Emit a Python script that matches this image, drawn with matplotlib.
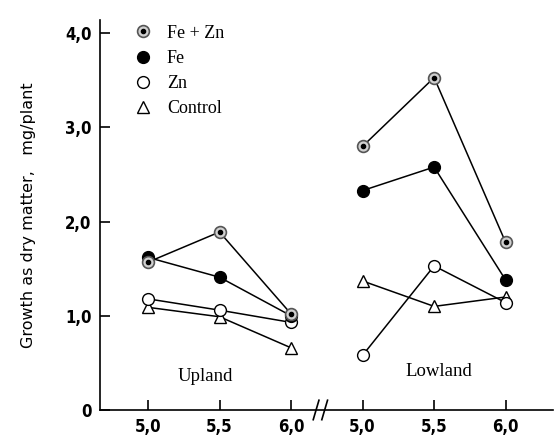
import matplotlib
matplotlib.use("Agg")
import matplotlib.pyplot as plt
from matplotlib import font_manager
from matplotlib.legend_handler import HandlerTuple

# pH values on each soil, drawn at positions 0..5 with a break between
ph_labels = ["5,0", "5,5", "6,0", "5,0", "5,5", "6,0"]
upland_x = [0, 1, 2]
lowland_x = [3, 4, 5]

# dry matter, mg/plant
upland = {
    "Fe + Zn": [1.57, 1.89, 1.02],
    "Fe": [1.62, 1.41, 1.00],
    "Zn": [1.18, 1.06, 0.93],
    "Control": [1.09, 0.99, 0.66],
}
lowland = {
    "Fe + Zn": [2.80, 3.53, 1.78],
    "Fe": [2.33, 2.58, 1.38],
    "Zn": [0.58, 1.53, 1.14],
    "Control": [1.37, 1.10, 1.20],
}
yticks = [0, 1, 2, 3, 4]
ytick_labels = ["0", "1,0", "2,0", "3,0", "4,0"]

names = {f.name for f in font_manager.fontManager.ttflist}
narrow = "Liberation Sans Narrow" if "Liberation Sans Narrow" in names else "DejaVu Sans"
serif = "Liberation Serif"

fig = plt.figure(figsize=(5.59, 4.38), dpi=100)
ax = fig.add_axes([0.179, 0.064, 0.81, 0.89])

styles = {
    "Fe + Zn": dict(marker="o", markersize=8.5, markerfacecolor="#d0d0d0",
                    markeredgecolor="#555555", markeredgewidth=1.2),
    "Fe": dict(marker="o", markersize=8.5, markerfacecolor="black",
               markeredgecolor="black"),
    "Zn": dict(marker="o", markersize=8.5, markerfacecolor="white",
               markeredgecolor="black", markeredgewidth=1.0),
    "Control": dict(marker="^", markersize=8, markerfacecolor="white",
                    markeredgecolor="black", markeredgewidth=1.0),
}

for name in ["Control", "Zn", "Fe", "Fe + Zn"]:
    for xs, data in [(upland_x, upland), (lowland_x, lowland)]:
        ax.plot(xs, data[name], color="black", lw=1.1, zorder=2, **styles[name])
        if name == "Fe + Zn":
            ax.plot(xs, data[name], ls="none", marker="o", markersize=3,
                    color="black", zorder=3)

h = {}
for name in ["Fe + Zn", "Fe", "Zn", "Control"]:
    line, = ax.plot([], [], ls="none", **styles[name])
    h[name] = line
dot, = ax.plot([], [], ls="none", marker="o", markersize=3, color="black")
leg_handles = [(h["Fe + Zn"], dot), h["Fe"], h["Zn"], h["Control"]]
ax.legend(leg_handles, ["Fe + Zn", "Fe", "Zn", "Control"],
          handler_map={tuple: HandlerTuple(ndivide=1, pad=0)},
          loc="upper left", bbox_to_anchor=(0.04, 1.03), frameon=False,
          handlelength=1.0, handletextpad=0.8, labelspacing=0.45,
          prop={"family": serif, "size": 13})

ax.set_xlim(-0.67, 5.66)
ax.set_ylim(0, 4.14)
ax.set_xticks(upland_x + lowland_x)
ax.set_xticklabels(ph_labels)
ax.set_yticks(yticks)
ax.set_yticklabels(ytick_labels)
for lab in ax.get_xticklabels() + ax.get_yticklabels():
    lab.set_fontfamily(narrow)
    lab.set_fontstretch("condensed")
    lab.set_fontweight("bold")
    lab.set_fontsize(12)
ax.tick_params(direction="in", length=7, width=1.2, pad=6)
ax.spines["top"].set_visible(False)
ax.spines["right"].set_visible(False)
ax.spines["left"].set_linewidth(1.2)
ax.spines["bottom"].set_linewidth(1.2)

ax.set_ylabel("Growth as dry matter,   mg/plant", fontfamily="DejaVu Sans",
              fontsize=11.5, labelpad=21)

ax.text(0.8, 0.36, "Upland", fontfamily=serif, fontsize=13.5,
        ha="center", va="center")
ax.text(4.06, 0.41, "Lowland", fontfamily=serif, fontsize=13.5,
        ha="center", va="center")

# axis break marks
trans = ax.get_xaxis_transform()
for dx in [-0.06, 0.06]:
    ax.plot([2.37 + dx, 2.45 + dx], [-0.025, 0.025], color="black", lw=1.2,
            transform=trans, clip_on=False)

fig.savefig("out.png", dpi=100)
